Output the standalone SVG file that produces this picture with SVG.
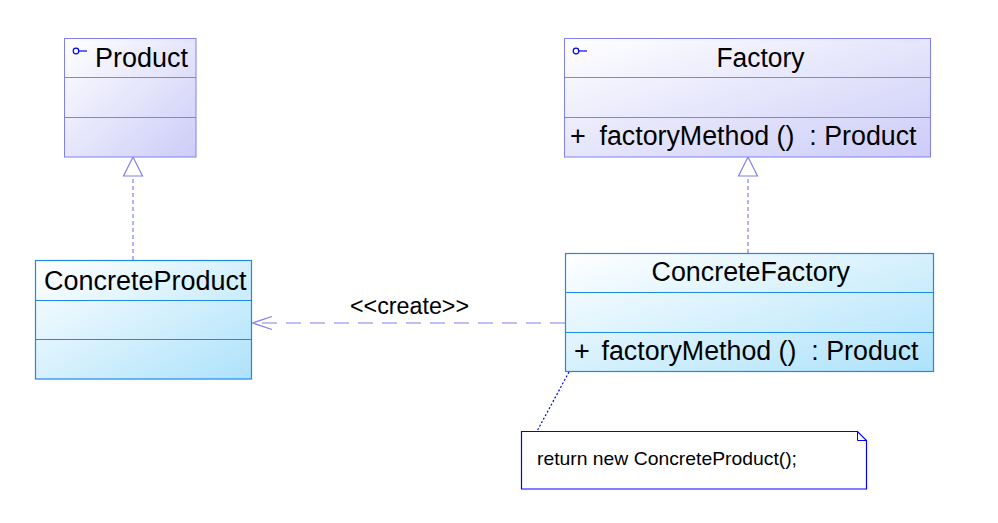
<svg xmlns="http://www.w3.org/2000/svg" width="998" height="523" viewBox="0 0 998 523">
<defs>
<linearGradient id="gI" x1="0" y1="0" x2="1" y2="1">
<stop offset="0" stop-color="#ffffff"/>
<stop offset="1" stop-color="#ccccf8"/>
</linearGradient>
<linearGradient id="gC" x1="0" y1="0" x2="1" y2="1">
<stop offset="0" stop-color="#ffffff"/>
<stop offset="1" stop-color="#ade2fb"/>
</linearGradient>
<style>
.iface{fill:url(#gI);stroke:#8080f0;stroke-width:1}
.idiv{stroke:#8080f0;stroke-width:1}
.conc{fill:url(#gC);stroke:#1e88f0;stroke-width:1.2}
.cdiv{stroke:#1e88f0;stroke-width:1}
.t{font-family:"Liberation Sans",Arial,sans-serif;font-size:27px;fill:#000;white-space:pre}
.lbl{font-family:"Liberation Sans",Arial,sans-serif;font-size:23px;fill:#000}
.note{font-family:"Liberation Sans",Arial,sans-serif;font-size:19px;fill:#000}
.icon{fill:none;stroke:#0000ff;stroke-width:1.2}
.real{fill:none;stroke:#8080f0;stroke-width:1.2;stroke-dasharray:4 3}
.tri{fill:#ffffff;stroke:#8080f0;stroke-width:1.2}
.dep{fill:none;stroke:#8080f0;stroke-width:1.2;stroke-dasharray:15 9}
.arr{fill:none;stroke:#8080f0;stroke-width:1.2}
.nline{fill:none;stroke:#0000ff;stroke-width:1.2;stroke-dasharray:2 2}
</style>
</defs>
<rect width="998" height="523" fill="#ffffff"/>
<g id="connectors">
<line class="real" x1="133" y1="260" x2="133" y2="176"/>
<polygon class="tri" points="133,157 123.5,176 142.5,176"/>
<line class="real" x1="748" y1="253" x2="748" y2="176"/>
<polygon class="tri" points="748,157 738.5,176 757.5,176"/>
<line class="dep" x1="565" y1="323" x2="253" y2="323"/>
<polyline class="arr" points="272,316.5 252.5,323 272,329.5"/>
<text class="lbl" x="350" y="314" textLength="119" lengthAdjust="spacingAndGlyphs">&lt;&lt;create&gt;&gt;</text>
<line class="nline" x1="569" y1="372" x2="536" y2="433"/>
</g>
<g id="Product">
<rect class="iface" x="64.5" y="38.5" width="131.5" height="118.5"/>
<line class="idiv" x1="64.5" y1="77.5" x2="196" y2="77.5"/>
<line class="idiv" x1="64.5" y1="117.5" x2="196" y2="117.5"/>
<circle class="icon" cx="76" cy="51" r="2.8"/>
<line class="icon" x1="78.8" y1="51" x2="87" y2="51"/>
<text class="t" x="95" y="67" textLength="93" lengthAdjust="spacingAndGlyphs">Product</text>
</g>
<g id="Factory">
<rect class="iface" x="564.5" y="38.5" width="366" height="118.5"/>
<line class="idiv" x1="564.5" y1="77.5" x2="930.5" y2="77.5"/>
<line class="idiv" x1="564.5" y1="117.5" x2="930.5" y2="117.5"/>
<circle class="icon" cx="576" cy="51" r="2.8"/>
<line class="icon" x1="578.8" y1="51" x2="587" y2="51"/>
<text class="t" x="716.5" y="67" textLength="88" lengthAdjust="spacingAndGlyphs">Factory</text>
<text class="t" x="570" y="145">+</text>
<text class="t" x="599.5" y="145" textLength="317" lengthAdjust="spacingAndGlyphs">factoryMethod ()  : Product</text>
</g>
<g id="ConcreteProduct">
<rect class="conc" x="35.5" y="260.5" width="216" height="118.5"/>
<line class="cdiv" x1="35.5" y1="300.5" x2="251.5" y2="300.5"/>
<line class="cdiv" x1="35.5" y1="339.5" x2="251.5" y2="339.5"/>
<text class="t" x="44" y="290" textLength="202.5" lengthAdjust="spacingAndGlyphs">ConcreteProduct</text>
</g>
<g id="ConcreteFactory">
<rect class="conc" x="565.5" y="253.5" width="368" height="118"/>
<line class="cdiv" x1="565.5" y1="292.5" x2="933.5" y2="292.5"/>
<line class="cdiv" x1="565.5" y1="332.5" x2="933.5" y2="332.5"/>
<text class="t" x="651.5" y="281" textLength="198.5" lengthAdjust="spacingAndGlyphs">ConcreteFactory</text>
<text class="t" x="574" y="360">+</text>
<text class="t" x="601.5" y="360" textLength="317" lengthAdjust="spacingAndGlyphs">factoryMethod ()  : Product</text>
</g>
<g id="Note">
<path d="M521.5,431.5 H857.5 L866.5,440.5 V489 H521.5 Z" fill="#ffffff" stroke="#0000ff" stroke-width="1.2"/>
<path d="M857.5,431.5 V440.5 H866.5" fill="none" stroke="#0000ff" stroke-width="1"/>
<text class="note" x="537" y="465" textLength="260" lengthAdjust="spacingAndGlyphs">return new ConcreteProduct();</text>
</g>
</svg>
